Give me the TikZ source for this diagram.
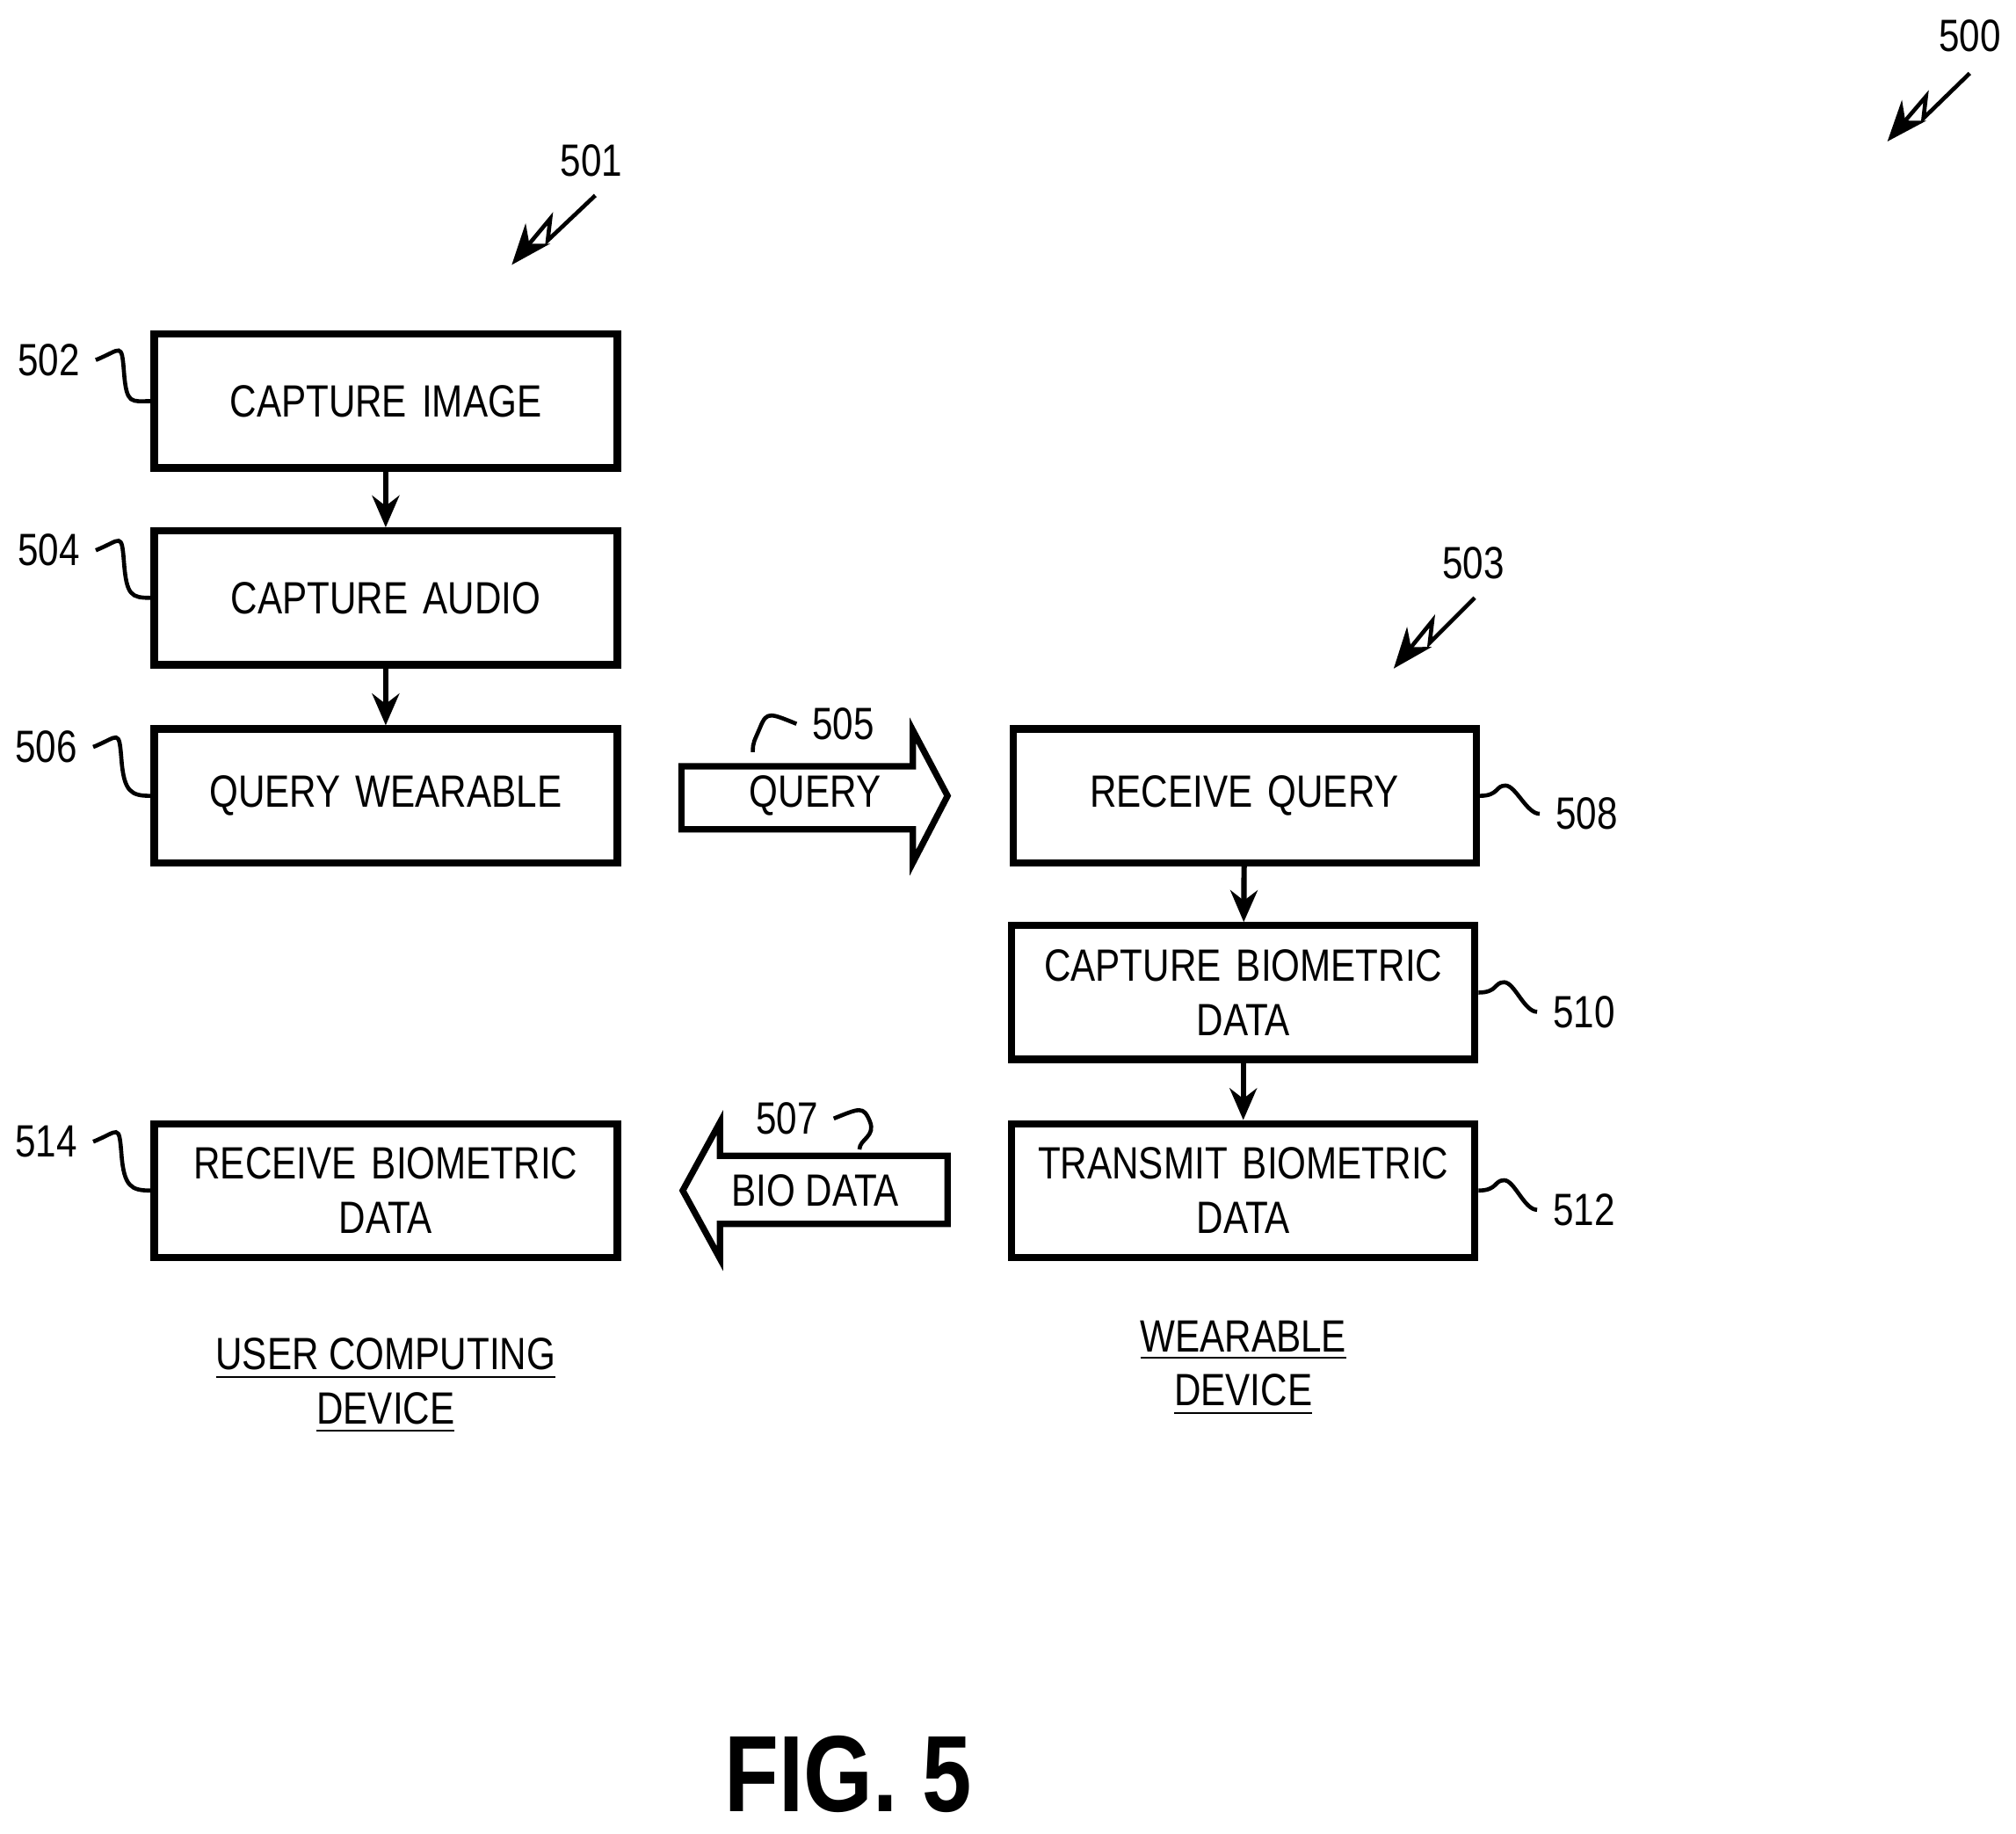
\documentclass[tikz,border=0pt]{standalone}
\usepackage{fontspec}
\setmainfont{Liberation Sans}
\newfontfamily\narrowsf[FakeStretch=0.82]{Liberation Sans}
\usetikzlibrary{arrows.meta}
\tikzset{
  stepbox/.style={draw, line width=1.6pt, minimum width=3.6cm, minimum height=1.04cm,
    text width=3.4cm, inner sep=0pt, align=center, font=\narrowsf\fontsize{10}{12}\selectfont},
  ref/.style={font=\narrowsf\fontsize{10}{12}\selectfont},
  lead/.style={line width=0.9pt},
  flow/.style={-{Stealth[length=7pt,width=6pt]}, line width=1.2pt},
  zap/.style={-{Stealth[length=9pt,width=7pt]}, line width=0.9pt},
  msg/.style={line width=1.4pt, line join=miter}
}
\begin{document}
\begin{tikzpicture}[x=0.01cm,y=-0.01cm]
    \useasboundingbox (0,0) rectangle (1568,1426);
    % user computing device
    \node[stepbox] (img) at (300,312) {CAPTURE IMAGE};
    \node[stepbox] (aud) at (300,465) {CAPTURE AUDIO};
    \node[stepbox] (qw) at (300,619) {QUERY WEARABLE};
    \node[stepbox] (rbd) at (300,926) {RECEIVE BIOMETRIC\\DATA};
    % wearable device
    \node[stepbox] (rq) at (968,619) {RECEIVE QUERY};
    \node[stepbox] (cbd) at (967,772) {CAPTURE BIOMETRIC\\DATA};
    \node[stepbox] (tbd) at (967,926) {TRANSMIT BIOMETRIC\\DATA};
    \draw[flow] (img) -- (aud);
    \draw[flow] (aud) -- (qw);
    \draw[flow] (rq) -- (cbd);
    \draw[flow] (cbd) -- (tbd);
    % messages
    \draw[msg] (530,596) -- (710,596) -- (710,568) -- (737,619) -- (710,671)
      -- (710,645) -- (530,645) -- cycle;
    \node[ref] (qa) at (634,619) {QUERY};
    \draw[msg] (737,899) -- (560,899) -- (560,873) -- (531,926) -- (560,979)
      -- (560,952) -- (737,952) -- cycle;
    \node[ref] (ba) at (634,926) {BIO DATA};
    % reference numerals
    \node[ref] (n502) at (38,280) {502};
    \node[ref] (n504) at (38,428) {504};
    \node[ref] (n506) at (36,581) {506};
    \node[ref] (n514) at (36,888) {514};
    \node[ref] (n508) at (1234,633) {508};
    \node[ref] (n510) at (1232,787) {510};
    \node[ref] (n512) at (1232,941) {512};
    \node[ref] (n505) at (656,563) {505};
    \node[ref] (n507) at (612,870) {507};
    \node[ref] (n501) at (460,125) {501};
    \node[ref] (n503) at (1146,438) {503};
    \node[ref] (n500) at (1532,28) {500};
    \foreach \n/\b in {n502/img,n504/aud,n506/qw,n514/rbd}
      \draw[lead] (\n.east) .. controls +(20,-8) and +(-2,-25) .. ++(22,10)
        .. controls +(2,25) and +(-15,0) .. (\b.west);
    \foreach \n/\b in {n508/rq,n510/cbd,n512/tbd}
      \draw[lead] (\b.east) .. controls +(15,0) and +(-8,0) .. ++(20,-8)
        .. controls +(8,0) and +(-10,0) .. (\n.west);
    \draw[lead] (n505.west) .. controls +(-20,-8) and +(5,-12) .. ++(-28,2)
      .. controls +(-5,12) and +(0,-8) .. ++(-6,20);
    \draw[lead] (n507.east) .. controls +(20,-8) and +(-5,-12) .. ++(28,2)
      .. controls +(5,12) and +(0,-8) .. ++(-8,22);
    \draw[zap] (463,152) -- (426,187) -- (428,170) -- (398,206);
    \draw[zap] (1147,465) -- (1112,500) -- (1114,483) -- (1084,520);
    \draw[zap] (1532,57) -- (1496,92) -- (1498,75) -- (1468,110);
    % device captions
    \node[ref, align=center] (ucd) at (300,1078)
      {\underline{USER COMPUTING}\\\underline{DEVICE}};
    \node[ref, align=center] (wd) at (967,1064)
      {\underline{WEARABLE}\\\underline{DEVICE}};
    \node[font=\narrowsf\fontsize{24}{28}\selectfont\bfseries] (fig) at (660,1380) {FIG. 5};
\end{tikzpicture}
\end{document}
